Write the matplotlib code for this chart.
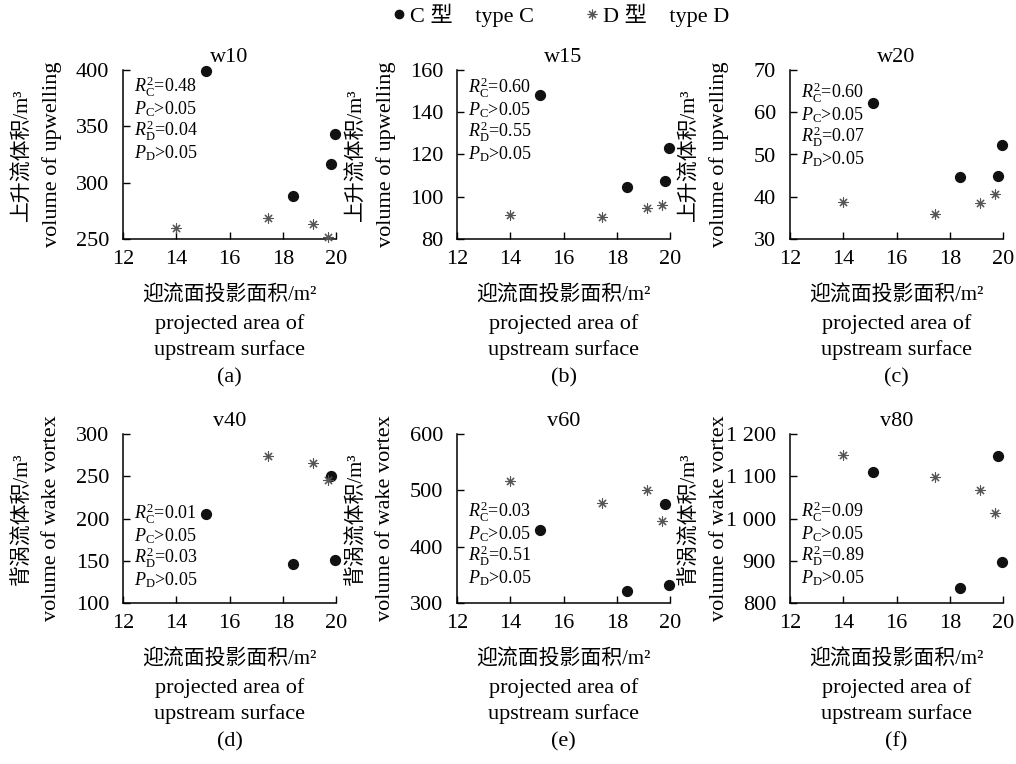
import numpy as np
import matplotlib
matplotlib.use("Agg")
import matplotlib.pyplot as plt
from matplotlib.lines import Line2D
from matplotlib.ticker import FuncFormatter

plt.rcParams['font.family'] = ['Liberation Serif', 'Noto Sans CJK SC', 'DejaVu Sans']
plt.rcParams['mathtext.fontset'] = 'custom'
plt.rcParams['mathtext.rm'] = 'Liberation Serif'
plt.rcParams['mathtext.it'] = 'Liberation Serif:italic'

# projected upstream area of each building, type C and type D
area_c = [15.12, 18.38, 19.83, 19.98]
area_d = [14.0, 17.43, 19.14, 19.71]

titles = ["w10", "w15", "w20", "v40", "v60", "v80"]
captions = ["(a)", "(b)", "(c)", "(d)", "(e)", "(f)"]

# upwelling volume (w) and wake vortex volume (v), m^3
vol_c = [
    [399, 288.5, 317, 343],
    [148.2, 104.6, 107.6, 123.1],
    [62.1, 44.6, 44.8, 52.3],
    [205.1, 145.7, 250.4, 150.4],
    [429.3, 321.8, 475.4, 331.8],
    [1110, 834.6, 1148, 896.9],
]
vol_d = [
    [260, 269, 263.6, 252],
    [91.5, 90.4, 94.7, 96.1],
    [38.7, 35.8, 38.6, 40.6],
    [np.nan, 274, 265.7, 245.3],
    [516.7, 478.3, 501, 445.8],
    [1150.4, 1098.4, 1066.9, 1013.4],
]

r2_c = ["0.48", "0.60", "0.60", "0.01", "0.03", "0.09"]
r2_d = ["0.04", "0.55", "0.07", "0.03", "0.51", "0.89"]

y_ranges = [(250, 400, 50), (80, 160, 20), (30, 70, 10),
            (100, 300, 50), (300, 600, 100), (800, 1200, 100)]

ylab_cn = ["上升流体积/m³"] * 3 + ["背涡流体积/m³"] * 3
ylab_en = ["volume of upwelling"] * 3 + ["volume of wake vortex"] * 3

# vertical spot of the first stats line, axes fraction
stats_top = [0.90, 0.893, 0.864, 0.527, 0.54, 0.54]

W, H = 1016, 764
fig = plt.figure(figsize=(W / 100, H / 100), dpi=100)

lefts = [123, 457, 790]
tops = [70, 434]
ax_w, ax_h = 213, 169
PT = 0.72  # points per pixel at dpi 100


def thousands(v, pos):
    v = int(round(v))
    if v >= 1000:
        return f"{v // 1000} {v % 1000:03d}"
    return str(v)


def put(ax, s, dx, dy, **kw):
    # place text at a pixel offset from the bottom centre of the axes
    ax.annotate(s, xy=(0.5, 0), xycoords='axes fraction',
                xytext=(dx * PT, dy * PT), textcoords='offset points',
                ha='center', va='center', annotation_clip=False, **kw)


for i in range(6):
    row, col = divmod(i, 3)
    l = lefts[col]
    t = tops[row]
    ax = fig.add_axes([l / W, (H - t - ax_h) / H, ax_w / W, ax_h / H])

    ax.scatter(area_c, vol_c[i], s=50, marker='o', color='#111111',
               zorder=3, clip_on=False)
    ax.scatter(area_d, vol_d[i], s=45, marker=(8, 2, 0), color='#555555',
               linewidths=0.8, zorder=3, clip_on=False)

    y0, y1, ys = y_ranges[i]
    ax.set_xlim(12, 20)
    ax.set_ylim(y0, y1)
    ax.set_xticks(np.arange(12, 21, 2))
    ax.set_yticks(np.arange(y0, y1 + 1, ys))
    ax.yaxis.set_major_formatter(FuncFormatter(thousands))

    for side in ['top', 'right']:
        ax.spines[side].set_visible(False)
    for side in ['left', 'bottom']:
        ax.spines[side].set_linewidth(1.1)
    ax.tick_params(direction='in', length=5, width=1, labelsize=16)
    ax.tick_params(axis='x', pad=8)
    ax.tick_params(axis='y', pad=10)

    ax.set_title(titles[i], fontsize=16, pad=6)

    # stats block
    lines = [r"$R^2_\mathrm{C}$=" + r2_c[i],
             r"$P_\mathrm{C}$>0.05",
             r"$R^2_\mathrm{D}$=" + r2_d[i],
             r"$P_\mathrm{D}$>0.05"]
    for k, s in enumerate(lines):
        ax.annotate(s, xy=(0.05, stats_top[i]), xycoords='axes fraction',
                    xytext=(0, -22 * k * PT), textcoords='offset points',
                    ha='left', va='center', fontsize=13)

    # y label, Chinese line outside, English line inside
    ax.annotate(ylab_cn[i], xy=(0, 0.5), xycoords='axes fraction',
                xytext=(-100 * PT, 0), textcoords='offset points',
                rotation=90, ha='center', va='center', fontsize=15,
                annotation_clip=False)
    ax.annotate(ylab_en[i], xy=(0, 0.5), xycoords='axes fraction',
                xytext=(-71 * PT, 0), textcoords='offset points',
                rotation=90, ha='center', va='center', fontsize=16,
                annotation_clip=False)

    # x label and caption
    put(ax, "迎流面投影面积/m²", 0, -57, fontsize=15)
    put(ax, "projected area of", 0, -85, fontsize=16)
    put(ax, "upstream surface", 0, -111, fontsize=16)
    put(ax, captions[i], 0, -139, fontsize=16)

handles = [
    Line2D([], [], marker='o', linestyle='none', color='#111111', markersize=6),
    Line2D([], [], marker=(8, 2, 0), linestyle='none', color='#555555',
           markersize=7, markeredgewidth=0.8),
]
fig.legend(handles, ["C 型    type C", "D 型    type D"], loc='center',
           bbox_to_anchor=(560 / W, 1 - 15 / H), ncol=2, frameon=False,
           fontsize=16, handletextpad=0.1, columnspacing=2.2, handlelength=0.8)

fig.savefig("out.png", dpi=100)
